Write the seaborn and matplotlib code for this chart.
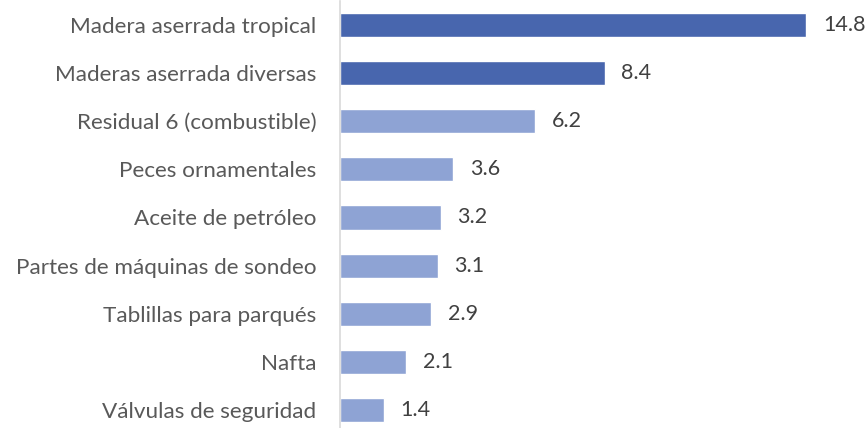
import matplotlib
matplotlib.use("Agg")
import matplotlib.pyplot as plt
import seaborn as sns
import pandas as pd

categories = [
    "Madera aserrada tropical",
    "Maderas aserrada diversas",
    "Residual 6 (combustible)",
    "Peces ornamentales",
    "Aceite de petróleo",
    "Partes de máquinas de sondeo",
    "Tablillas para parqués",
    "Nafta",
    "Válvulas de seguridad",
]
values = [14.8, 8.4, 6.2, 3.6, 3.2, 3.1, 2.9, 2.1, 1.4]
groups = ["top", "top", "rest", "rest", "rest", "rest", "rest", "rest", "rest"]

df = pd.DataFrame({"cat": categories, "val": values, "grp": groups})

sns.set_theme(style="white")
plt.rcParams["font.family"] = ["Lato", "DejaVu Sans"]

W, H = 867, 428
fig = plt.figure(figsize=(W / 100, H / 100), dpi=100)
# axes: left at 340px, y band from 1px to 434px
ax = fig.add_axes([340 / W, (H - 434) / H, 504 / W, 433 / H])

palette = {"top": "#4866AE", "rest": "#8EA3D4"}
sns.barplot(data=df, y="cat", x="val", hue="grp", palette=palette, dodge=False,
            width=0.5, legend=False, ax=ax, saturation=1, orient="h")

ax.set_xlim(0, 16)
ax.set_ylim(8.5, -0.5)
ax.set_xlabel("")
ax.set_ylabel("")
ax.set_xticks([])
for s in ["top", "right", "bottom"]:
    ax.spines[s].set_visible(False)
ax.spines["left"].set_color("#D9D9D9")
ax.spines["left"].set_linewidth(1.2)
ax.tick_params(axis="y", length=0, pad=17, labelsize=16.2, labelcolor="#595959")

for cont in ax.containers:
    ax.bar_label(cont, labels=[f"{v:.1f}" for v in cont.datavalues], padding=12,
                 fontsize=15.5, color="#404040")

fig.savefig("out.png", dpi=100)
